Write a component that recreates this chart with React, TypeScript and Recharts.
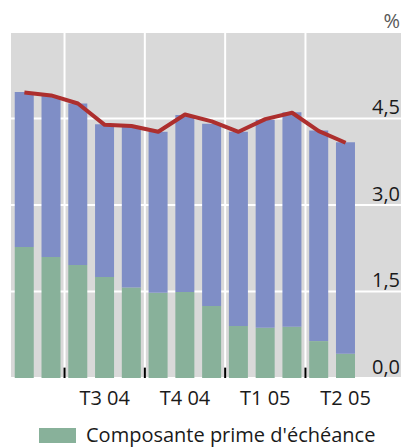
import React from 'react';
import {
  ComposedChart,
  Bar,
  Line,
  XAxis,
  YAxis,
  CartesianGrid,
  Legend,
  ReferenceLine,
} from 'recharts';

// ---- data ----
const months = [
  'mai 04', 'juin 04', 'juil. 04', 'août 04', 'sept. 04', 'oct. 04', 'nov. 04',
  'déc. 04', 'janv. 05', 'févr. 05', 'mars 05', 'avr. 05', 'mai 05',
];
const xTickLabels = ['', '', '', 'T3 04', '', '', 'T4 04', '', '', 'T1 05', '', '', 'T2 05'];
const quarterStarts = ['juil. 04', 'oct. 04', 'janv. 05', 'avr. 05'];

const termPremium = [2.27, 2.10, 1.96, 1.75, 1.57, 1.48, 1.49, 1.25, 0.90, 0.87, 0.89, 0.64, 0.42];
const otherComponent = [2.69, 2.79, 2.80, 2.65, 2.79, 2.79, 3.07, 3.16, 3.37, 3.61, 3.72, 3.65, 3.67];
const totalYield = [4.95, 4.90, 4.76, 4.39, 4.37, 4.27, 4.57, 4.45, 4.27, 4.49, 4.60, 4.28, 4.08];

const yTicks = [0, 1.5, 3, 4.5, 6];
const yTickLabels = ['0,0', '1,5', '3,0', '4,5', '%'];
const legendLabel = "Composante prime d'échéance";

const data = months.map((m, i) => ({
  month: m,
  premium: termPremium[i],
  other: otherComponent[i],
  total: totalYield[i],
}));

// ---- styles ----
const FONT = '"Open Sans", "Noto Sans", sans-serif';
const GREEN = '#88b19a';
const BLUE = '#7f8ec6';
const RED = '#ad2f2e';
const GRAY = '#d9d9d9';
const TEXT = '#1a1a1a';

const XTick = (props: any) => {
  const { x, y, index } = props;
  const label = xTickLabels[index] || '';
  if (!label) return null;
  return (
    <text x={x} y={y + 27} textAnchor="middle" fontSize={20} fontFamily={FONT} fill={TEXT}>
      {label}
    </text>
  );
};

const YTick = (props: any) => {
  const { y, payload, viewBox } = props;
  const i = yTicks.indexOf(payload.value);
  const isUnit = i === yTicks.length - 1;
  const right = viewBox && typeof viewBox.x === 'number' && typeof viewBox.width === 'number'
    ? viewBox.x + viewBox.width
    : 401;
  return (
    <text
      x={right - 1}
      y={y - 12}
      textAnchor="end"
      dominantBaseline="central"
      fontSize={20}
      fontFamily={FONT}
      fill={isUnit ? '#595959' : TEXT}
    >
      {yTickLabels[i]}
    </text>
  );
};

const LegendContent = (props: any) => {
  const items = (props.payload || []).filter((p: any) => p.dataKey === 'premium');
  return (
    <div style={{ height: 26, display: 'flex', alignItems: 'center', paddingLeft: 39 }}>
      {items.map((p: any) => (
        <div key={p.dataKey} style={{ display: 'flex', alignItems: 'center' }}>
          <span style={{ display: 'inline-block', width: 37, height: 15, background: p.color, marginRight: 10 }} />
          <span style={{ fontFamily: FONT, fontSize: 20, color: TEXT, lineHeight: '26px' }}>{legendLabel}</span>
        </div>
      ))}
    </div>
  );
};

const verticalGen = (args: any) => {
  const { xAxis, offset } = args || {};
  const s = xAxis && xAxis.scale;
  const out: number[] = [];
  quarterStarts.forEach((m) => {
    let c: any = undefined;
    if (typeof s === 'function') c = s(m);
    else if (s && typeof s.map === 'function') c = s.map(m, { position: 'start' });
    if (typeof c !== 'number' || isNaN(c)) {
      const idx = months.indexOf(m);
      const w = (offset.width - 42) / months.length;
      c = offset.left + idx * w;
    }
    out.push(c);
  });
  return out;
};

export default function App() {
  return (
    <div style={{ position: 'absolute', left: 0, top: 0, width: 401, height: 448, background: '#fff' }}>
      <ComposedChart
        width={401}
        height={448}
        data={data}
        margin={{ top: 32, right: 0, bottom: 0, left: 11 }}
        barCategoryGap="14%"
      >
        <CartesianGrid
          fill={GRAY}
          stroke="#ffffff"
          strokeWidth={2}
          verticalCoordinatesGenerator={verticalGen}
        />
        <XAxis
          dataKey="month"
          padding={{ left: 0, right: 42 }}
          interval={0}
          tickLine={false}
          axisLine={false}
          tickSize={0}
          tickMargin={0}
          height={44}
          tick={<XTick />}
        />
        <YAxis
          orientation="right"
          mirror
          domain={[0, 6]}
          ticks={yTicks}
          width={40}
          tickLine={false}
          axisLine={false}
          tickSize={0}
          tickMargin={0}
          tick={<YTick />}
          allowDataOverflow
        />
        <Bar dataKey="premium" stackId="a" fill={GREEN} isAnimationActive={false} name={legendLabel} />
        <Bar dataKey="other" stackId="a" fill={BLUE} isAnimationActive={false} name="Autre composante" />
        <Line
          dataKey="total"
          type="linear"
          stroke={RED}
          strokeWidth={4}
          dot={false}
          activeDot={false}
          strokeLinejoin="round"
          isAnimationActive={false}
          name="Rendement"
        />
        {quarterStarts.map((m) => (
          <ReferenceLine
            key={m}
            segment={[{ x: m, y: 0 }, { x: m, y: 0.18 }]}
            position="start"
            stroke="#000"
            strokeWidth={2}
          />
        ))}
        <Legend
          verticalAlign="bottom"
          height={26}
          content={<LegendContent />}
          wrapperStyle={{ left: 0, width: 401 }}
        />
      </ComposedChart>
    </div>
  );
}
